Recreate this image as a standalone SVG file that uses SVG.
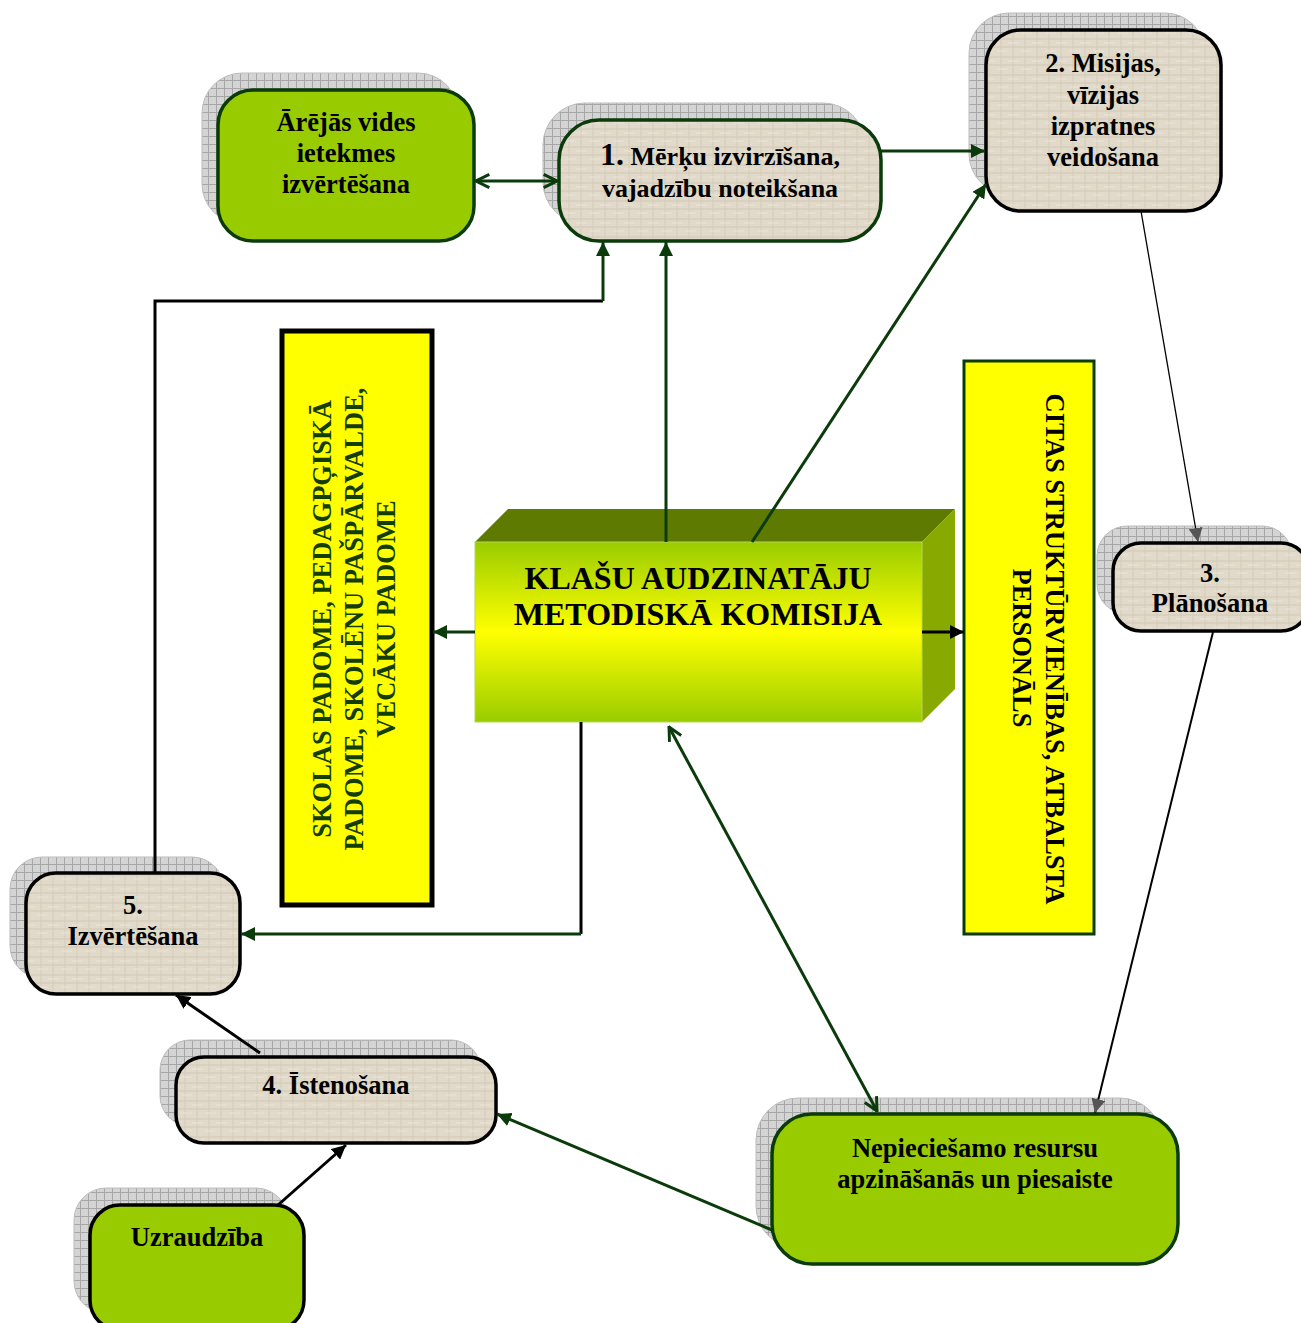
<svg xmlns="http://www.w3.org/2000/svg" width="1301" height="1323" viewBox="0 0 1301 1323">
  <style>
    .t { font-family: "Liberation Serif", "Times New Roman", serif; font-weight: bold; text-anchor: middle; fill: #000; }
    .shadow { fill: url(#grid); stroke: #bdbdbd; stroke-width: 1; }
    .beige { fill: url(#linen); stroke-width: 3.5; }
    .green { fill: #99cc00; stroke-width: 3.5; }
    .dk { stroke: #0b3b0b; }
    .bk { stroke: #000; }
    .cg { fill: none; stroke: #0b3b0b; stroke-width: 3; }
    .cb { fill: none; stroke: #000; stroke-width: 3; }
  </style>
  <defs>
    <!-- grey grid used for the drop shadows -->
    <pattern id="grid" patternUnits="userSpaceOnUse" width="8" height="8">
      <rect width="8" height="8" fill="#d4d4d4"/>
      <path d="M0 0.5H8M0.5 0V8" stroke="#a6a6a6" stroke-width="1"/>
    </pattern>
    <!-- woven beige texture for the process steps -->
    <pattern id="linen" patternUnits="userSpaceOnUse" width="24" height="18">
      <rect width="24" height="18" fill="#e1d9c9"/>
      <path d="M0 3H24M0 11H24" stroke="#d2c8b4" stroke-width="1.2"/>
      <path d="M5 0V18M17 0V18" stroke="#d6cdbb" stroke-width="1"/>
      <path d="M0 7H11M13 15H24" stroke="#ece6da" stroke-width="1"/>
    </pattern>
    <linearGradient id="front" x1="0" y1="0" x2="0" y2="1">
      <stop offset="0" stop-color="#99cc00"/>
      <stop offset="0.5" stop-color="#ffff00"/>
      <stop offset="1" stop-color="#99cc00"/>
    </linearGradient>
    <marker id="triG" viewBox="0 0 10 10" refX="10" refY="5" markerWidth="14" markerHeight="14" markerUnits="userSpaceOnUse" orient="auto-start-reverse">
      <path d="M0 0L10 5L0 10z" fill="#0b3b0b"/>
    </marker>
    <marker id="triK" viewBox="0 0 10 10" refX="10" refY="5" markerWidth="14" markerHeight="14" markerUnits="userSpaceOnUse" orient="auto-start-reverse">
      <path d="M0 0L10 5L0 10z" fill="#000"/>
    </marker>
    <marker id="triGrey" viewBox="0 0 10 10" refX="10" refY="5" markerWidth="14" markerHeight="14" markerUnits="userSpaceOnUse" orient="auto-start-reverse">
      <path d="M0 0L10 5L0 10z" fill="#555"/>
    </marker>
    <marker id="chev" viewBox="0 0 12 12" refX="11" refY="6" markerWidth="16" markerHeight="16" markerUnits="userSpaceOnUse" orient="auto-start-reverse">
      <path d="M1 1L11 6L1 11" fill="none" stroke="#0b3b0b" stroke-width="2.2"/>
    </marker>
  </defs>

  <rect width="1301" height="1323" fill="#fff"/>

  <!-- nodes -->
  <g id="node-arejas">
    <rect class="shadow" x="202" y="73" width="256" height="151" rx="40"/>
    <rect class="green dk" x="218" y="90" width="256" height="151" rx="35"/>
    <text class="t" font-size="26.5" x="346" y="131">Ārējās vides</text>
    <text class="t" font-size="26.5" x="346" y="162">ietekmes</text>
    <text class="t" font-size="26.5" x="346" y="193">izvērtēšana</text>
  </g>

  <g id="node-1">
    <rect class="shadow" x="543" y="103" width="322" height="121" rx="42"/>
    <rect class="beige dk" x="559" y="120" width="322" height="121" rx="40"/>
    <text class="t" font-size="26" x="720" y="165"><tspan font-size="32">1.</tspan> Mērķu izvirzīšana,</text>
    <text class="t" font-size="26" x="720" y="197">vajadzību noteikšana</text>
  </g>

  <g id="node-2">
    <rect class="shadow" x="969" y="13" width="236" height="181" rx="40"/>
    <rect class="beige bk" x="986" y="30" width="235" height="181" rx="35"/>
    <text class="t" font-size="26.5" x="1103" y="72">2. Misijas,</text>
    <text class="t" font-size="26.5" x="1103" y="104">vīzijas</text>
    <text class="t" font-size="26.5" x="1103" y="135">izpratnes</text>
    <text class="t" font-size="26.5" x="1103" y="166">veidošana</text>
  </g>

  <g id="node-3">
    <rect class="shadow" x="1097" y="526" width="195" height="88" rx="30"/>
    <rect class="beige bk" x="1113" y="543" width="196" height="88" rx="28"/>
    <text class="t" font-size="26.5" x="1210" y="582">3.</text>
    <text class="t" font-size="26.5" x="1210" y="612">Plānošana</text>
  </g>

  <g id="node-5">
    <rect class="shadow" x="10" y="857" width="214" height="121" rx="32"/>
    <rect class="beige bk" x="26" y="873" width="214" height="121" rx="30"/>
    <text class="t" font-size="26.5" x="133" y="914">5.</text>
    <text class="t" font-size="26.5" x="133" y="945">Izvērtēšana</text>
  </g>

  <g id="node-4">
    <rect class="shadow" x="160" y="1040" width="321" height="86" rx="30"/>
    <rect class="beige bk" x="176" y="1057" width="320" height="86" rx="28"/>
    <text class="t" font-size="26.5" x="336" y="1094">4. Īstenošana</text>
  </g>

  <g id="node-uzraudziba">
    <rect class="shadow" x="74" y="1188" width="214" height="125" rx="32"/>
    <rect class="green bk" x="90" y="1205" width="214" height="125" rx="30"/>
    <text class="t" font-size="26.5" x="197" y="1246">Uzraudzība</text>
  </g>

  <g id="node-resursi">
    <rect class="shadow" x="756" y="1098" width="406" height="150" rx="42"/>
    <rect class="green dk" x="772" y="1114" width="406" height="150" rx="40"/>
    <text class="t" font-size="26.5" x="975" y="1157">Nepieciešamo resursu</text>
    <text class="t" font-size="26.5" x="975" y="1188">apzināšanās un piesaiste</text>
  </g>

  <g id="node-padomes">
    <rect x="282" y="331" width="150" height="574" fill="#ffff00" stroke="#000" stroke-width="5"/>
    <g class="t" font-size="26.5" style="fill:#143d00">
      <text transform="translate(331,619) rotate(-90)">SKOLAS PADOME, PEDAGPĢISKĀ</text>
      <text transform="translate(363,619) rotate(-90)">PADOME, SKOLĒNU PAŠPĀRVALDE,</text>
      <text transform="translate(395,619) rotate(-90)">VECĀKU PADOME</text>
    </g>
  </g>

  <g id="node-citas">
    <rect x="964" y="361" width="130" height="573" fill="#ffff00" stroke="#0b3b0b" stroke-width="3"/>
    <text class="t" font-size="26.5" transform="translate(1046,649) rotate(90)">CITAS STRUKTŪRVIENĪBAS, ATBALSTA</text>
    <text class="t" font-size="26.5" transform="translate(1013,648) rotate(90)">PERSONĀLS</text>
  </g>

  <g id="node-komisija">
    <polygon points="475,542 508,509 955,509 922,542" fill="#5e7a00"/>
    <polygon points="922,542 955,509 955,689 922,722" fill="#88aa00"/>
    <rect x="475" y="542" width="447" height="180" fill="url(#front)" stroke="#b7d65a" stroke-width="1"/>
    <text class="t" font-size="32" x="698" y="589">KLAŠU AUDZINATĀJU</text>
    <text class="t" font-size="32" x="698" y="625">METODISKĀ KOMISIJA</text>
  </g>

  <!-- connectors -->
  <g id="connectors">
    <path class="cg" d="M476 181H557" marker-start="url(#chev)" marker-end="url(#chev)"/>
    <path class="cg" d="M881 151H985" marker-end="url(#triG)"/>
    <path class="cg" d="M666 542V242" marker-end="url(#triG)"/>
    <path class="cg" d="M752 542L986 184" marker-end="url(#triG)"/>
    <path fill="none" stroke="#000" stroke-width="1.3" d="M1141 211L1198 542" marker-end="url(#triGrey)"/>
    <path fill="none" stroke="#000" stroke-width="2" d="M1213 632L1095 1113" marker-end="url(#triGrey)"/>
    <path class="cg" d="M669 727L877 1111" marker-start="url(#chev)" marker-end="url(#chev)"/>
    <path class="cg" d="M772 1230L497 1114" marker-end="url(#triG)"/>
    <path class="cb" d="M278 1205L346 1145" marker-end="url(#triK)"/>
    <path class="cb" d="M260 1053L176 995" marker-end="url(#triK)"/>
    <path class="cb" d="M581 722V934"/>
    <path class="cg" d="M581 934H241" marker-end="url(#triG)"/>
    <path class="cb" d="M155 873V301H603"/>
    <path class="cg" d="M603 301V242" marker-end="url(#triG)"/>
    <path class="cg" d="M475 632H433" marker-end="url(#triG)"/>
    <path class="cb" d="M922 632H964" marker-end="url(#triK)"/>
  </g>
</svg>
